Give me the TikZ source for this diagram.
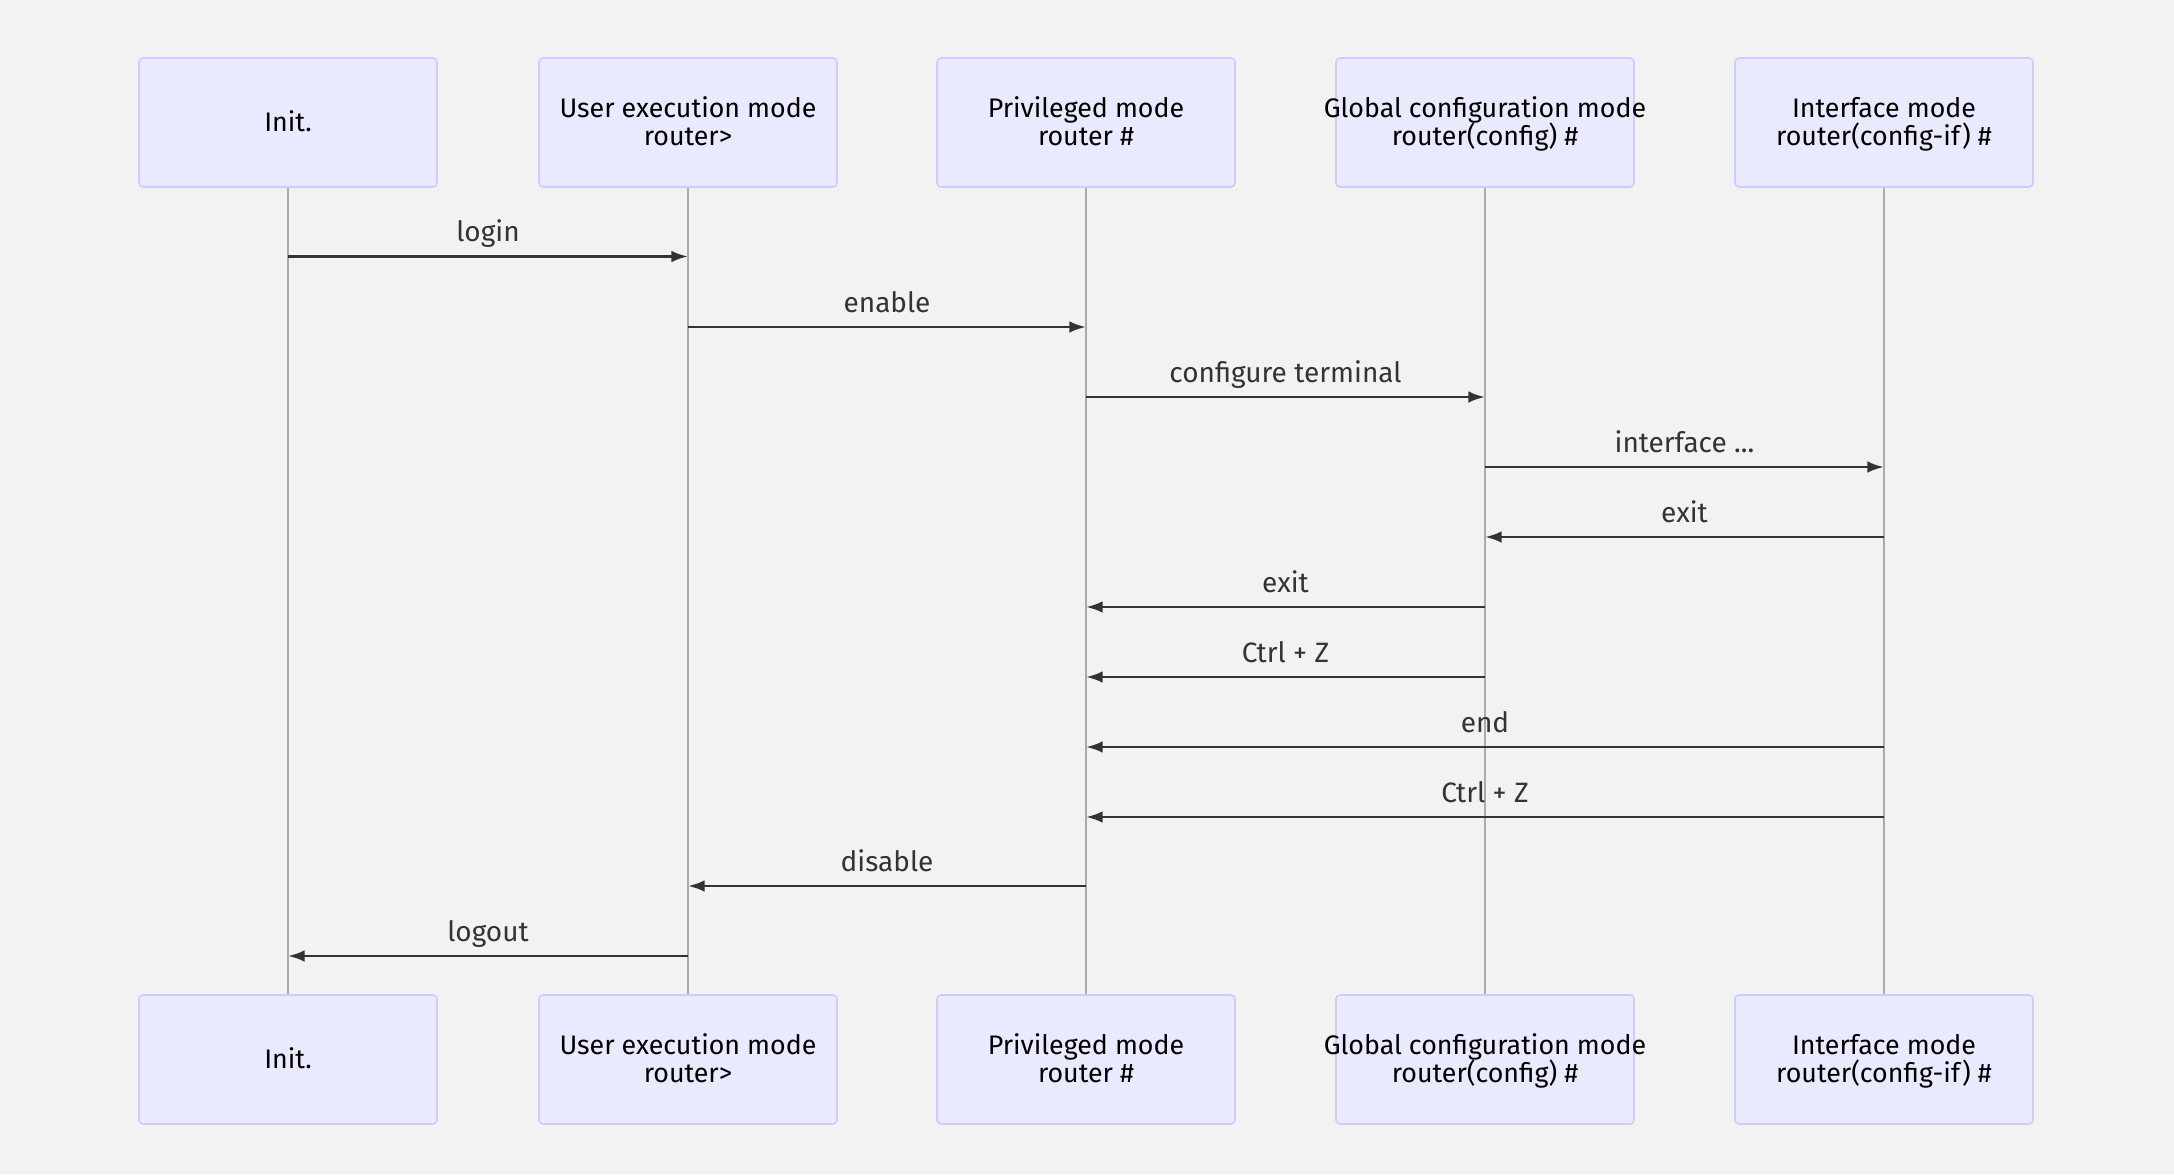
\documentclass[tikz,border=0pt]{standalone}
\usepackage{fontspec}
\setmainfont{Fira Sans}
\usetikzlibrary{arrows.meta,calc}
\definecolor{bgc}{HTML}{F2F2F2}
\definecolor{actfill}{HTML}{EAEAFF}
\definecolor{actline}{HTML}{CCCCFF}
\definecolor{life}{HTML}{ABABAB}
\definecolor{msg}{HTML}{333333}
\newcommand\mythreedots{...}
\tikzset{
  actor/.style={draw=actline, fill=actfill, line width=0.8pt, rounded corners=2pt,
    minimum width=149pt, minimum height=64.5pt, inner sep=0pt},
  actortext/.style={font=\fontsize{13.4}{14}\selectfont, text=black, inner sep=0pt, anchor=base},
  lifeline/.style={draw=life, line width=0.6pt},
  msgarrow/.style={draw=msg, line width=1.35pt, -{Latex[length=8.3pt,width=5.8pt]}},
  msglabel/.style={font=\fontsize{14}{16}\selectfont, text=msg, inner sep=0pt, anchor=base}
}
\begin{document}
\begin{tikzpicture}[x=0.5pt,y=-0.5pt]
\fill[bgc] (0,0) rectangle (2174,1174);
\useasboundingbox (0,0) rectangle (2174,1174);
% actors (top row t, bottom row b)
\foreach \r/\yy in {t/122.5, b/1059.5}{
  \foreach \i/\xx/\la/\lb in {
    1/288/Init./,
    2/688/User execution mode/router>,
    3/1086/Privileged mode/router \#,
    4/1485/Global configuration mode/router(config) \#,
    5/1884/Interface mode/router(config-if) \#}{
    \node[actor] (\r\i) at (\xx,\yy) {};
    \ifx\lb\empty
      \node[actortext] (\r\i l) at ($(\r\i.center)+(0,9)$) {\la};
    \else
      \node[actortext] (\r\i l) at ($(\r\i.center)+(0,-5)$) {\la};
      \node[actortext] (\r\i m) at ($(\r\i.center)+(0,22.5)$) {\lb};
    \fi
  }
}
% lifelines
\foreach \i in {1,...,5} { \draw[lifeline] (t\i.south) -- (b\i.north); }
% messages
\foreach \s/\d/\y/\txt [count=\k] in {
  1/2/256.5/login,
  2/3/327/enable,
  3/4/397/configure terminal,
  4/5/467/interface \mythreedots,
  5/4/537/exit,
  4/3/607/exit,
  4/3/677/Ctrl + Z,
  5/3/747/end,
  5/3/817/Ctrl + Z,
  3/2/886/disable,
  2/1/956/logout}{
  \coordinate (ms\k) at (t\s |- 0,\y);
  \coordinate (md\k) at (t\d |- 0,\y);
  \draw[msgarrow] (ms\k) -- (md\k);
  \node[msglabel] (ml\k) at ($(ms\k)!0.5!(md\k)+(0,-15)$) {\txt};
}
\end{tikzpicture}
\end{document}
